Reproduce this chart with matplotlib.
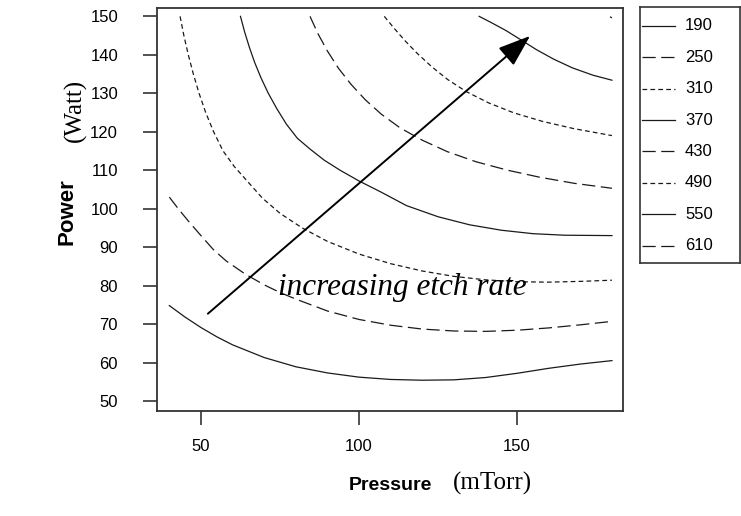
import matplotlib.pyplot as plt

plt.rcParams['lines.scale_dashes'] = False

# contour levels (etch rate) and line styles
levels = [190, 250, 310, 370, 430, 490, 550, 610]
solid = '-'
long_dash = (0, (9.5, 4.0))
short_dash = (0, (3.4, 2.3))
styles = [solid, long_dash, short_dash, solid, long_dash, short_dash, solid, long_dash]

# contour lines: pressure (mTorr), power (Watt)
p190 = [40, 45, 50, 55, 60, 70, 80, 90, 100, 110, 120, 130, 140, 150, 160, 170, 180]
w190 = [74.8, 71.8, 69.1, 66.7, 64.6, 61.3, 58.9, 57.3, 56.2, 55.6, 55.4, 55.5, 56.1, 57.2, 58.5, 59.6, 60.5]

p250 = [40, 43, 46, 50, 54, 58, 64, 70, 75, 80, 90, 100, 110, 120, 130, 140, 150, 160, 170, 180]
w250 = [103.0, 99.8, 96.8, 93.0, 89.3, 86.4, 83.0, 80.2, 78.2, 76.5, 73.4, 71.2, 69.7, 68.7, 68.2, 68.1, 68.4, 69.0, 69.8, 70.7]

p310 = [43.4, 44.6, 46.0, 47.6, 49.4, 51.5, 54.0, 57.0, 60.5, 64.5, 69.5, 75, 82, 90, 100, 110, 120, 130, 140, 150, 160, 170, 180]
w310 = [150, 145, 140, 135, 130, 125, 120, 115, 111.0, 107.3, 102.7, 98.8, 95.0, 91.5, 88.2, 85.7, 83.8, 82.4, 81.5, 81.0, 80.9, 81.1, 81.4]

p370 = [62.5, 63.8, 65.3, 67.0, 69.0, 71.3, 74.0, 77.0, 80.5, 84.5, 89, 94, 100, 107, 115, 125, 135, 145, 155, 165, 180]
w370 = [150, 146, 142, 138, 134, 130, 126, 122, 118.3, 115.5, 112.6, 110.0, 107.2, 104.3, 100.8, 97.9, 95.8, 94.4, 93.5, 93.1, 93.0]

p430 = [84.5, 87, 90, 93.5, 97.5, 102, 107, 113, 120, 128, 137, 147, 157, 168, 180]
w430 = [150, 145.5, 141, 136.5, 132.3, 128.3, 124.6, 121, 117.8, 114.8, 112.2, 110.0, 108.2, 106.6, 105.3]

p490 = [108, 111, 114.5, 118.5, 123, 128, 134, 141, 149, 158, 168, 180]
w490 = [150, 147, 143.7, 140.3, 136.9, 133.6, 130.4, 127.5, 124.9, 122.7, 120.8, 119.0]

p550 = [138, 142, 146.5, 151, 156, 161.5, 167.5, 174, 180]
w550 = [150, 148.3, 146.3, 144.0, 141.4, 138.9, 136.6, 134.7, 133.4]

p610 = [179.4, 180.0]
w610 = [149.9, 149.6]

pressures = [p190, p250, p310, p370, p430, p490, p550, p610]
powers = [w190, w250, w310, w370, w430, w490, w550, w610]

x_ticks = [50, 100, 150]
y_ticks = [50, 60, 70, 80, 90, 100, 110, 120, 130, 140, 150]

arrow_start = (52.2, 72.7)
arrow_end = (154.1, 144.9)

sans = ['Liberation Sans', 'DejaVu Sans']
serif = ['Liberation Serif', 'DejaVu Serif']

fig = plt.figure(figsize=(7.41, 5.16), dpi=100)
ax = fig.add_axes([157 / 741, 1 - 411 / 516, 466 / 741, 403.5 / 516])

for lev, ls, px, pw in zip(levels, styles, pressures, powers):
    ax.plot(px, pw, color='#1a1a1a', lw=0.9, ls=ls)

ax.annotate('', xy=arrow_end, xytext=arrow_start,
            arrowprops=dict(arrowstyle='-|>,head_length=1.0,head_width=0.36',
                            mutation_scale=20, lw=1.4, color='black',
                            shrinkA=0, shrinkB=0))
ax.text(74.4, 77.6, 'increasing etch rate', family=serif, style='italic',
        fontsize=22.5, va='baseline', ha='left')

ax.set_xlim(36.1, 183.5)
ax.set_ylim(47.4, 152.3)
ax.set_xticks(x_ticks)
ax.set_yticks(y_ticks)
ax.tick_params(length=10, width=1.2, color='#333333', labelsize=12)
ax.tick_params(axis='x', pad=10)
ax.tick_params(axis='y', pad=18)
for lab in ax.get_xticklabels() + ax.get_yticklabels():
    lab.set_family(sans)
for sp in ax.spines.values():
    sp.set_linewidth(1.3)
    sp.set_color('#333333')

fig.text(390 / 741, 1 - 485 / 516, 'Pressure', fontsize=14, fontweight='bold',
         ha='center', va='center', family=sans)
fig.text(492 / 741, 1 - 483 / 516, '(mTorr)', fontsize=18, family=serif,
         ha='center', va='center')
fig.text(67 / 741, 1 - 212 / 516, 'Power', fontsize=16, fontweight='bold',
         rotation=90, ha='center', va='center', family=sans)
fig.text(75 / 741, 1 - 110 / 516, '(Watt)', fontsize=18, family=serif,
         rotation=90, ha='center', va='center')

# legend box drawn as its own small axes (0..1 across, rows top to bottom)
lax = fig.add_axes([640 / 741, 1 - 263 / 516, 100 / 741, 256 / 516])
lax.set_xlim(0, 1)
lax.set_ylim(len(levels) - 0.45, -0.6)
lax.set_xticks([])
lax.set_yticks([])
for sp in lax.spines.values():
    sp.set_linewidth(1.2)
    sp.set_color('#333333')
for i, (lev, ls) in enumerate(zip(levels, styles)):
    lax.plot([0.02, 0.35], [i, i], color='#1a1a1a', lw=0.9, ls=ls)
    lax.text(0.45, i, str(lev), family=sans, fontsize=12, va='center', ha='left')

fig.savefig('out.png', dpi=100)
